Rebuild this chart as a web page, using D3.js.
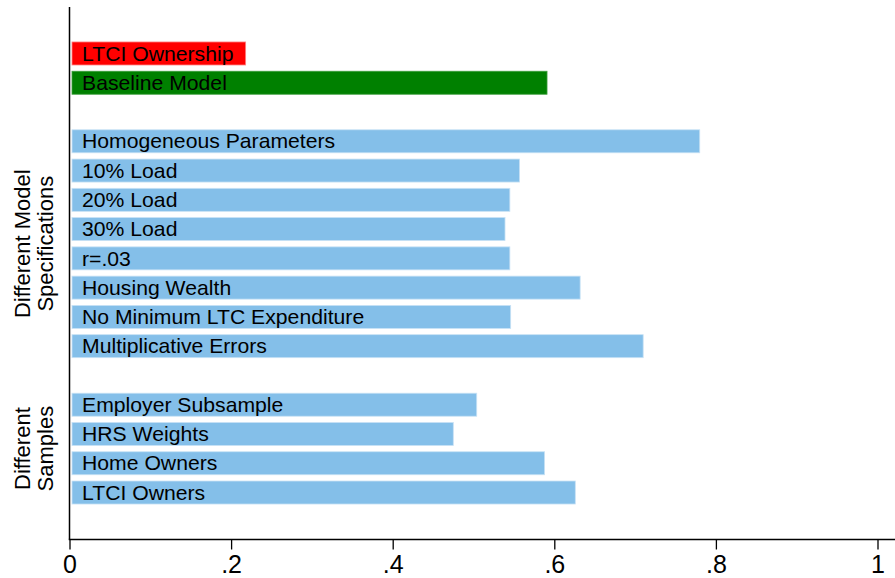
<!DOCTYPE html>
<html>
<head>
<meta charset="utf-8">
<script src="https://cdn.jsdelivr.net/npm/d3@7"></script>
<style>
  html, body { margin: 0; padding: 0; background: #ffffff; }
  svg { display: block; font-family: "Liberation Sans", Arial, Helvetica, sans-serif; }
</style>
</head>
<body>
<svg id="chart" width="895" height="578"></svg>
<script>
// ---- data ----
const labels = [
  "LTCI Ownership", "Baseline Model",
  "Homogeneous Parameters", "10% Load", "20% Load", "30% Load", "r=.03",
  "Housing Wealth", "No Minimum LTC Expenditure", "Multiplicative Errors",
  "Employer Subsample", "HRS Weights", "Home Owners", "LTCI Owners"
];
const values = [
  0.218, 0.591,
  0.780, 0.557, 0.545, 0.539, 0.545, 0.632, 0.546, 0.710,
  0.504, 0.475, 0.588, 0.626
];
const barGroups = [
  "ownership", "baseline",
  "spec", "spec", "spec", "spec", "spec", "spec", "spec", "spec",
  "sample", "sample", "sample", "sample"
];
// row order, with empty slots separating the groups
const rowOrder = [
  "LTCI Ownership", "Baseline Model", "_gap1",
  "Homogeneous Parameters", "10% Load", "20% Load", "30% Load", "r=.03",
  "Housing Wealth", "No Minimum LTC Expenditure", "Multiplicative Errors", "_gap2",
  "Employer Subsample", "HRS Weights", "Home Owners", "LTCI Owners"
];
const groupTitles = [
  { lines: ["Different Model", "Specifications"], first: "Homogeneous Parameters", last: "Multiplicative Errors" },
  { lines: ["Different", "Samples"], first: "Employer Subsample", last: "LTCI Owners" }
];
const xTicks = [0, 0.2, 0.4, 0.6, 0.8, 1];
const xTickLabels = ["0", ".2", ".4", ".6", ".8", "1"];

const colorFor = { ownership: "#ff0000", baseline: "#008000", spec: "#84bfe9", sample: "#84bfe9" };
const strokeFor = { ownership: "#ff8080", baseline: "#3f9f3f", spec: "#c8e2f5", sample: "#c8e2f5" };

// ---- layout ----
const svg = d3.select("#chart");
const plot = { left: 69.5, right: 877.5, top: 7, bottom: 539.5 };

const x = d3.scaleLinear().domain([0, 1]).range([plot.left, plot.right]);
const y = d3.scaleBand().domain(rowOrder).range([plot.top, plot.bottom - 0.5])
  .paddingInner(0.214).paddingOuter(1.195);

const data = labels.map((l, i) => ({ label: l, value: values[i], group: barGroups[i] }));

// bars
svg.append("g").selectAll("rect").data(data).enter().append("rect")
  .attr("x", x(0) + 2.5)
  .attr("y", d => y(d.label))
  .attr("width", d => x(d.value) - x(0) - 2.5)
  .attr("height", y.bandwidth())
  .attr("fill", d => colorFor[d.group])
  .attr("stroke", d => strokeFor[d.group])
  .attr("stroke-width", 0.8);

// bar labels
const labelX = 82;
svg.append("g").selectAll("text").data(data).enter().append("text")
  .attr("transform", d => `translate(${labelX},${y(d.label) + y.bandwidth() / 2}) scale(1.06,1)`)
  .attr("dy", "0.36em")
  .attr("font-size", 20)
  .attr("fill", "#000")
  .text(d => d.label);

// y axis line
svg.append("line")
  .attr("x1", plot.left).attr("x2", plot.left)
  .attr("y1", plot.top).attr("y2", plot.bottom)
  .attr("stroke", "#000").attr("stroke-width", 1.5);

// x axis
const xAxis = d3.axisBottom(x)
  .tickValues(xTicks)
  .tickFormat((d, i) => xTickLabels[i])
  .tickSize(10)
  .tickSizeOuter(0)
  .tickPadding(6);
const gx = svg.append("g").attr("transform", `translate(0,${plot.bottom})`).call(xAxis);
gx.select(".domain").attr("stroke", "#000").attr("stroke-width", 1.3)
  .attr("d", `M${plot.left - 0.75},0H${plot.right + 20}`);
gx.selectAll(".tick line").attr("stroke", "#000").attr("stroke-width", 1.3);
gx.selectAll(".tick text")
  .attr("font-size", 25)
  .attr("font-family", "'Liberation Sans', Arial, sans-serif")
  .attr("fill", "#000");

// group titles (rotated)
const gt = svg.append("g");
groupTitles.forEach(g => {
  const cy = (y(g.first) + y(g.last) + y.bandwidth()) / 2;
  const t = gt.append("text")
    .attr("transform", `translate(30,${cy}) rotate(-90)`)
    .attr("text-anchor", "middle")
    .attr("font-size", 22)
    .attr("fill", "#000");
  g.lines.forEach((ln, i) => {
    t.append("tspan").attr("x", 0).attr("y", i * 22.5).text(ln);
  });
});
</script>
</body>
</html>
